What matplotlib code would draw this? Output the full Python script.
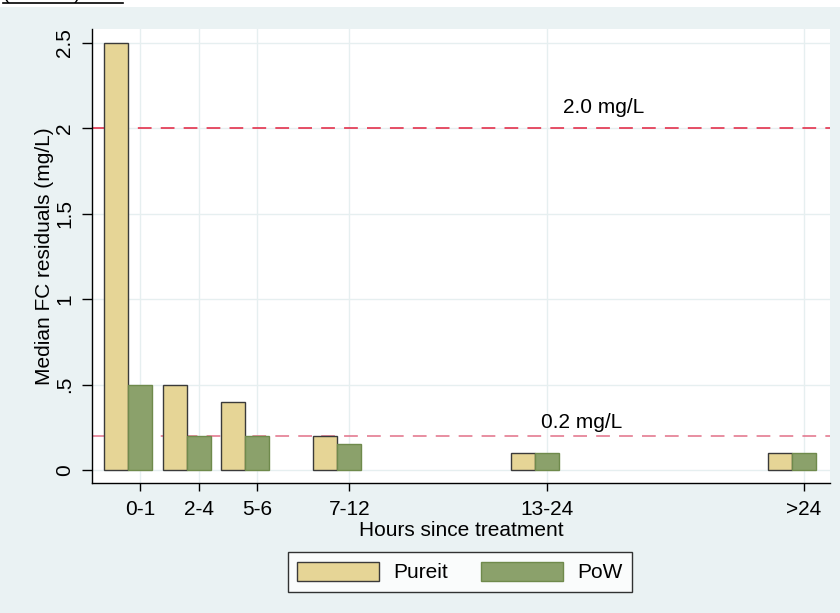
import matplotlib
matplotlib.use("Agg")
import matplotlib.pyplot as plt
from matplotlib.lines import Line2D

plt.rcParams['font.family'] = ['Liberation Sans', 'DejaVu Sans']

# Data
categories = ["0-1", "2-4", "5-6", "7-12", "13-24", ">24"]
hours_pos = [0.5, 3.1, 5.7, 9.8, 18.6, 30.0]
pureit = [2.5, 0.5, 0.4, 0.2, 0.1, 0.1]
pow_vals = [0.5, 0.2, 0.2, 0.15, 0.1, 0.1]
y_ticks = [0, 0.5, 1, 1.5, 2, 2.5]
y_tick_labels = ["0", ".5", "1", "1.5", "2", "2.5"]
ref_lines = [2.0, 0.2]
ref_labels = ["2.0 mg/L", "0.2 mg/L"]

BG = "#EAF2F3"
GRID = "#E6EFF0"
SAND = "#E6D596"
OLIVE = "#8BA16B"
FS = 15

W, H = 840, 613
fig = plt.figure(figsize=(W / 100, H / 100), dpi=100)
fig.patch.set_facecolor("white")

# light background below the thin white strip at the top
fig.add_artist(plt.Rectangle((0, 0), 1, 1 - 7 / H, transform=fig.transFigure,
                             facecolor=BG, edgecolor="none", zorder=-10))

# title is cut off at the top edge in the original
fig.text(3 / W, 1 + 1 / H, "(Zambia)", fontsize=14, ha="left", va="baseline")
fig.add_artist(Line2D([3 / W, 123 / W], [1 - 3 / H, 1 - 3 / H],
                      transform=fig.transFigure, color="black", lw=1.2))

ax = fig.add_axes([92 / W, (H - 483) / H, (830 - 92) / W, (483 - 29) / H])
ax.set_facecolor("white")

bw = 1.067
ax.bar([x - bw for x in hours_pos], pureit, width=bw, color=SAND,
       edgecolor="#3a3a3a", linewidth=1.0, label="Pureit", zorder=3)
ax.bar(hours_pos, pow_vals, width=bw, color=OLIVE,
       edgecolor="#6f8a4c", linewidth=1.0, label="PoW", zorder=3)

# reference lines with labels
ax.axhline(ref_lines[0], color="#E2203E", lw=1.1, dashes=(9, 6), zorder=2)
ax.axhline(ref_lines[1], color="#E27088", lw=1.1, dashes=(9, 6), zorder=2)
ax.text(19.3, 2.12, ref_labels[0], fontsize=FS, ha="left", va="center")
ax.text(18.3, 0.28, ref_labels[1], fontsize=FS, ha="left", va="center")

ax.set_xlim(-1.633, 31.156)
ax.set_ylim(-0.076, 2.582)

ax.set_xticks(hours_pos)
ax.set_xticklabels(categories, fontsize=FS)
ax.set_yticks(y_ticks)
ax.set_yticklabels(y_tick_labels, fontsize=FS, rotation=90, va="center")

ax.grid(True, color=GRID, lw=1.0, zorder=0)
ax.set_axisbelow(True)

for s in ["top", "right"]:
    ax.spines[s].set_visible(False)
for s in ["left", "bottom"]:
    ax.spines[s].set_color("black")
    ax.spines[s].set_linewidth(1.0)

ax.tick_params(axis="x", length=6, width=1.0, pad=6)
ax.tick_params(axis="y", length=7, width=1.0, pad=6)

ax.set_xlabel("Hours since treatment", fontsize=FS, labelpad=2)
ax.set_ylabel("Median FC residuals (mg/L)", fontsize=FS, labelpad=1)

leg = fig.legend(loc="center", bbox_to_anchor=(460 / W, 1 - 572 / H),
                 ncol=2, fontsize=FS, frameon=True, fancybox=False,
                 handlelength=3.9, handleheight=1.05, handletextpad=0.7,
                 columnspacing=1.6, borderpad=0.45)
leg.get_frame().set_edgecolor("black")
leg.get_frame().set_linewidth(1.0)
leg.get_frame().set_facecolor("white")

fig.savefig("out.png", dpi=100, facecolor=fig.get_facecolor())
